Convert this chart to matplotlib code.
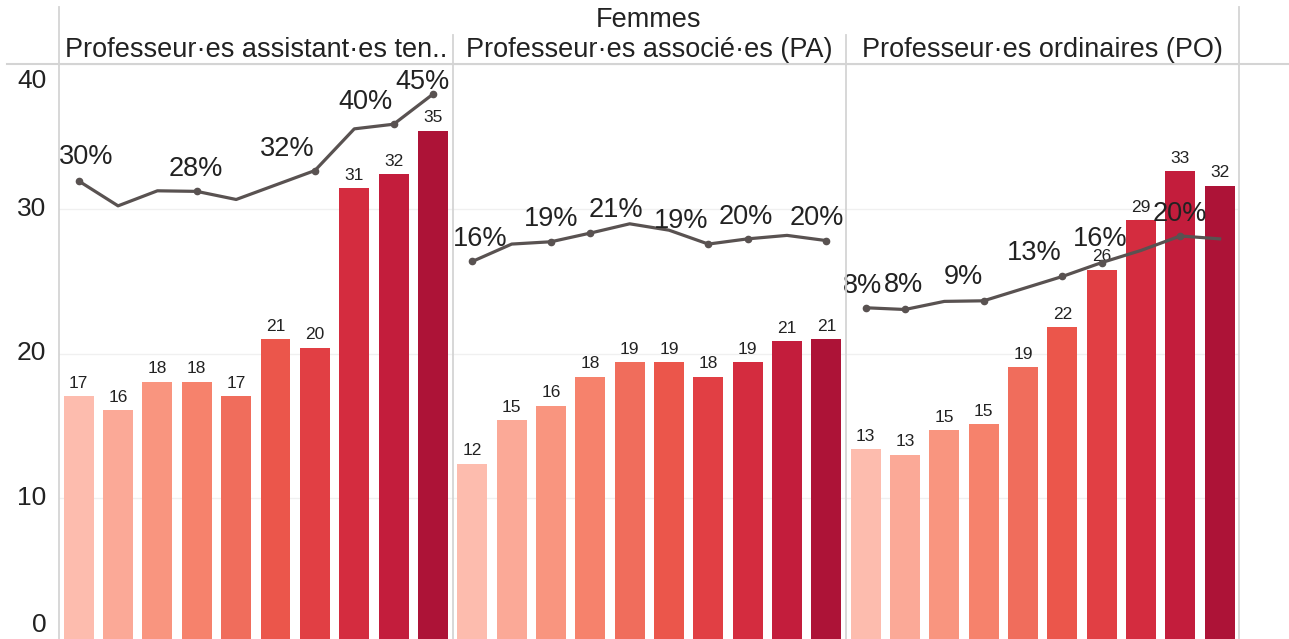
import numpy as np
import matplotlib
matplotlib.use("Agg")
import matplotlib.pyplot as plt
from matplotlib.lines import Line2D

plt.rcParams['font.family'] = ['Liberation Sans', 'DejaVu Sans']

# données
annees = list(range(10))
rangs = ["Professeur·es assistant·es ten..",
         "Professeur·es associé·es (PA)",
         "Professeur·es ordinaires (PO)"]

effectifs_pat = [17.06, 16.07, 18.05, 18.05, 17.06, 21.0, 20.4, 31.4, 32.4, 35.4]
effectifs_pa = [12.4, 15.4, 16.4, 18.4, 19.4, 19.4, 18.4, 19.4, 20.85, 21.0]
effectifs_po = [13.4, 13.0, 14.7, 15.1, 19.06, 21.8, 25.8, 29.2, 32.6, 31.6]

pct_pat = [29.8, 25.5, 28.1, 28.0, 26.6, 29.1, 31.6, 38.8, 39.6, 44.8]
pct_pa = [15.9, 18.9, 19.3, 20.8, 22.4, 21.3, 18.9, 19.8, 20.4, 19.5]
pct_po = [7.9, 7.6, 9.0, 9.1, 11.2, 13.3, 15.7, 17.8, 20.3, 19.8]

yticks = [0, 10, 20, 30, 40]

# points étiquetés (indices)
lab_pat = [0, 3, 6, 8, 9]
lab_pa = [0, 2, 3, 6, 7, 9]
lab_po = [0, 1, 3, 5, 6, 8]

# décalage des étiquettes en pixels (dx, dy)
off_pat = [(7, 24), (-1, 22), (-28, 22), (-28, 22), (-11, 12)]
off_pa = [(8, 22), (0, 23), (26, 23), (-27, 23), (-2, 22), (-10, 23)]
off_po = [(-3, 22), (-1, 24), (-20, 24), (-28, 23), (-1, 24), (0, 22)]

couleurs = ['#FDBCAE', '#FBA997', '#F9957F', '#F6826C', '#F06D5C',
            '#EB564B', '#E13F44', '#D42C3F', '#C31D3C', '#AD1337']
col_ligne = '#595251'
col_texte = '#222222'
col_trait = '#D4D4D4'

W, H = 1289, 639
fig = plt.figure(figsize=(W / 100, H / 100), dpi=100)


def px(x, y):
    return x / W, 1 - y / H


panels = [(effectifs_pat, pct_pat, lab_pat, off_pat),
          (effectifs_pa, pct_pa, lab_pa, off_pa),
          (effectifs_po, pct_po, lab_po, off_po)]
bords = [59, 452.7, 846, 1239.3]
y_top, y_bot = 64, 643

for i, (eff, pct, labs, offs) in enumerate(panels):
    x0, x1 = bords[i], bords[i + 1]
    ax = fig.add_axes([x0 / W, (H - y_bot) / H, (x1 - x0) / W, (y_bot - y_top) / H])
    ax.bar(annees, eff, width=0.76, color=couleurs, zorder=2)
    for x, v in zip(annees, eff):
        ax.annotate(f"{int(round(v))}", (x, v), xytext=(0, 6), textcoords='offset points',
                    ha='center', va='baseline', fontsize=12.5, color=col_texte, zorder=5)
    ax.set_xlim(-0.5, 9.5)
    ax.set_ylim(0, 40)
    ax.set_yticks(yticks)
    ax.set_yticklabels([])
    ax.grid(axis='y', color='#F0F0F0', lw=1, zorder=0)
    ax.set_xticks([])
    for s in ax.spines.values():
        s.set_visible(False)
    ax.tick_params(axis='y', length=0)
    if i == 0:
        # étiquettes d'axe, celles des extrémités rentrées comme dans Tableau
        for v in yticks:
            dy = 13 if v == yticks[0] else (-12 if v == yticks[-1] else 0)
            ax.annotate(str(v), (0, v), xycoords=('axes fraction', 'data'),
                        xytext=(-9, dy), textcoords='offset points',
                        ha='right', va='center', fontsize=19, color=col_texte)

    ax2 = ax.twinx()
    ax2.set_ylim(-50, 50)
    ax2.axis('off')
    ax2.plot(annees, pct, color=col_ligne, lw=2.3, zorder=3, solid_joinstyle='round')
    ax2.plot([annees[k] for k in labs], [pct[k] for k in labs], 'o', color=col_ligne,
             ms=4.5, zorder=4)
    for k, (dx, dy) in zip(labs, offs):
        ax2.annotate(f"{int(round(pct[k]))}%", (annees[k], pct[k]),
                     xytext=(dx * 0.72, dy * 0.72), textcoords='offset points',
                     ha='center', va='center', fontsize=19.5, color=col_texte, zorder=6)

    fig.text((x0 + x1) / 2 / W, 1 - 50 / H, rangs[i], ha='center', va='center',
             fontsize=19.5, color=col_texte)

fig.text(649 / W, 1 - 20 / H, "Femmes", ha='center', va='center', fontsize=19.5,
         color=col_texte)

# traits d'en-tête et séparateurs
fig.add_artist(Line2D(*zip(px(7, 64), px(W, 64)), transform=fig.transFigure,
                      color=col_trait, lw=1.5))
for x, y0 in zip(bords, [7, 35, 35, 7]):
    fig.add_artist(Line2D(*zip(px(x, y0), px(x, H)), transform=fig.transFigure,
                          color=col_trait, lw=1.3))

fig.savefig("out.png", dpi=100, facecolor='white')
